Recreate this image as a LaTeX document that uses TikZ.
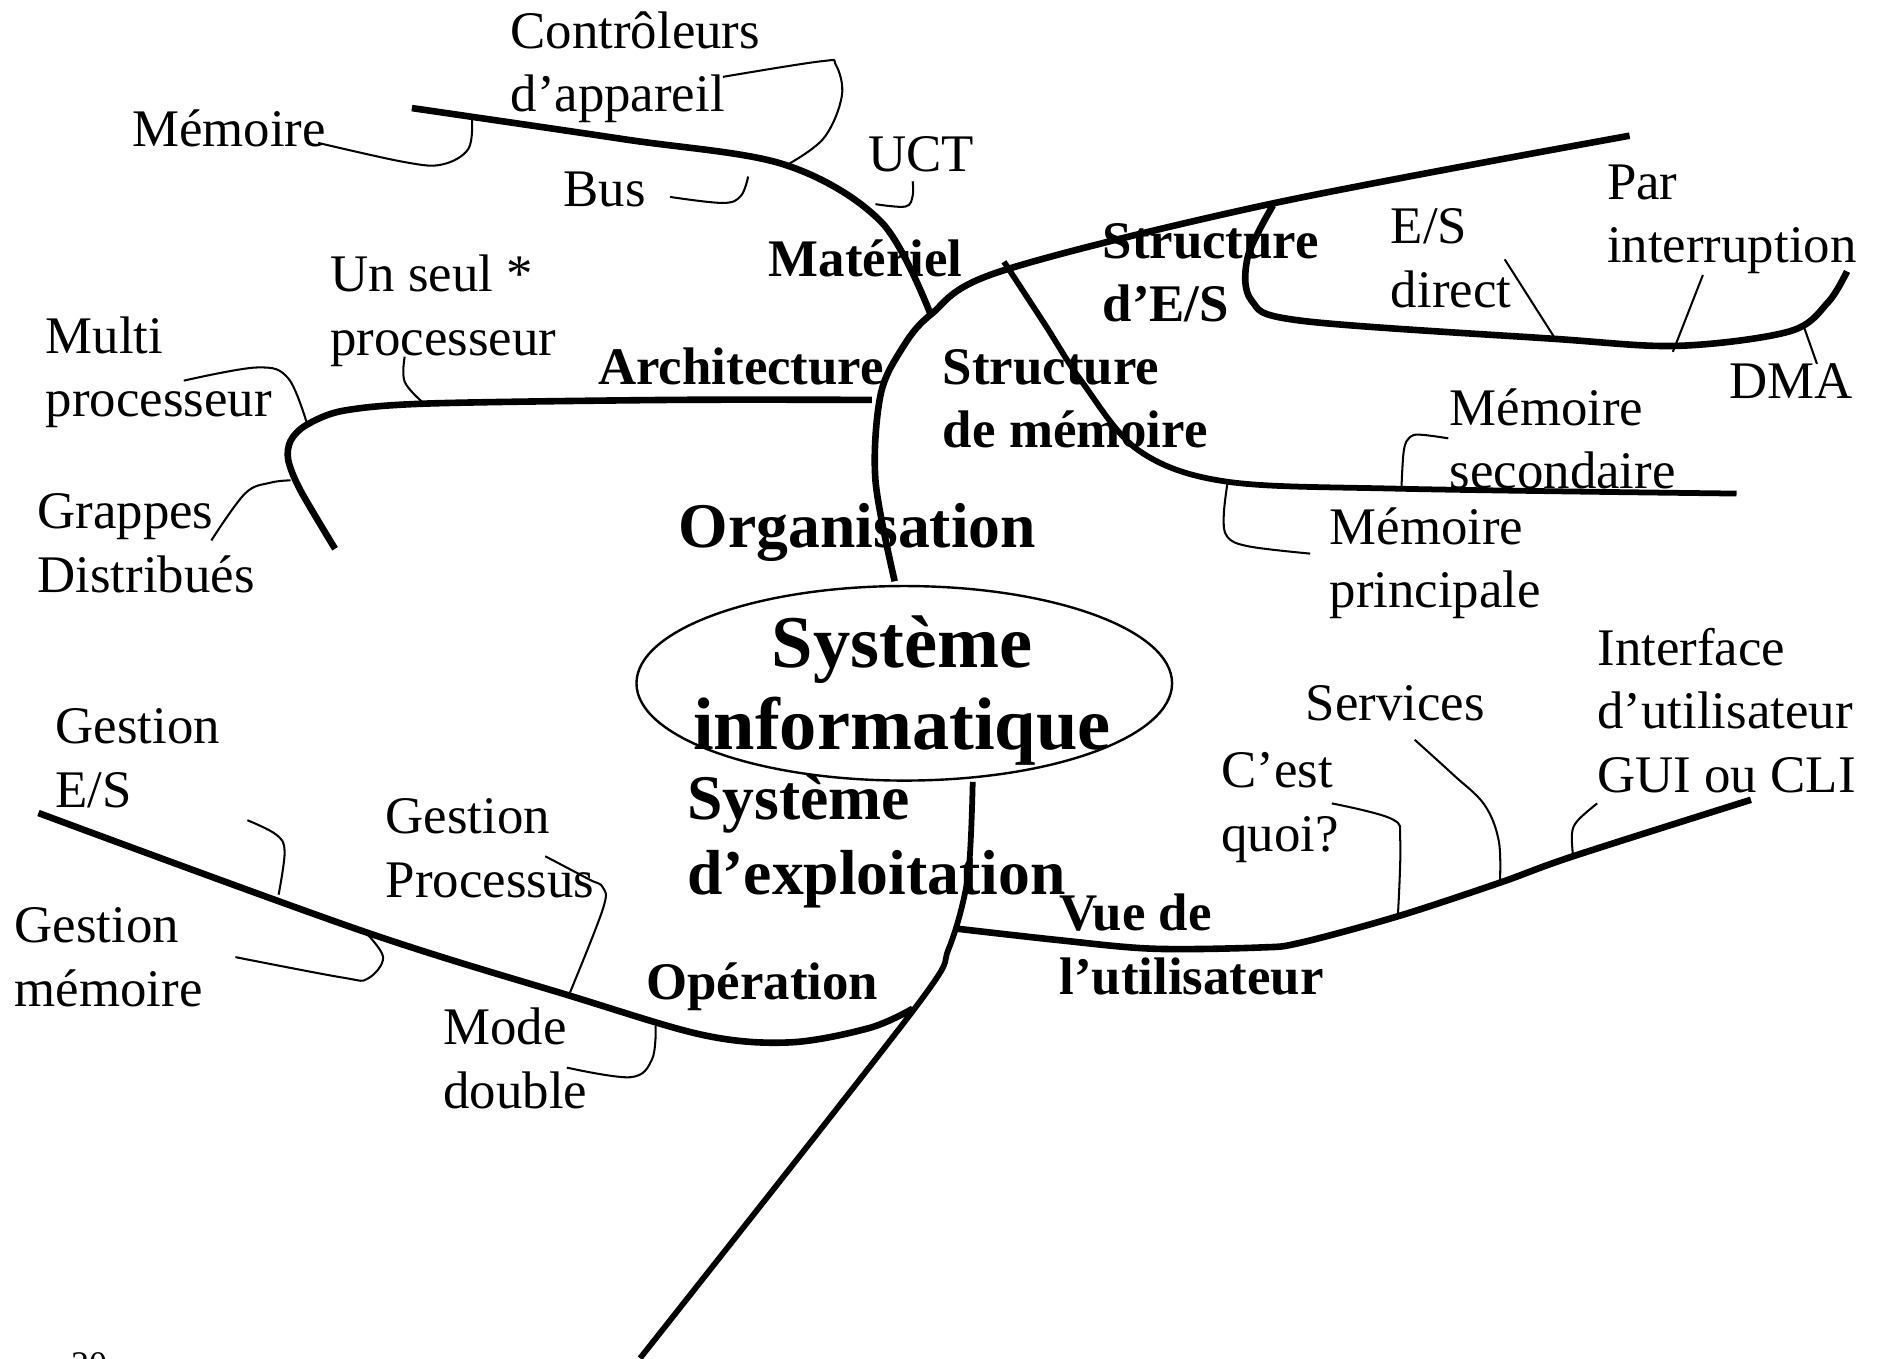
\documentclass[tikz,border=0pt]{standalone}
\usepackage{fontspec}
\setmainfont{Liberation Serif}
\newcommand\txtsz{\fontsize{44}{53}\selectfont}
\newcommand\midsz{\fontsize{53}{63}\selectfont}
\newcommand\bigsz{\fontsize{62}{68}\selectfont}
\tikzset{
  branch/.style={line width=5.5pt, line join=round},
  trunk/.style={line width=4.8pt, line join=round},
  twig/.style={line width=1.7pt, line join=round},
  lbl/.style={anchor=base west, inner sep=0pt, align=left, font=\txtsz},
  blbl/.style={lbl, font=\txtsz\bfseries},
  mlbl/.style={lbl, font=\midsz\bfseries},
}
\begin{document}
\begin{tikzpicture}[x=1pt,y=-1pt]
\useasboundingbox (0,0) rectangle (1568,1131);
\clip (0,0) rectangle (1568,1131);

% central ellipse (multi-line nodes are placed by the baseline of their last line)
\draw[line width=2pt] (753,569) ellipse [x radius=223, y radius=81];
\node[anchor=base, inner sep=0pt, align=center, font=\bigsz\bfseries] (si) at (751,624) {Système\\informatique};

% trunk upward (Organisation) and the Structure d'E/S arc
\draw[branch] plot[smooth, tension=0.55] coordinates {(745,484) (729,400) (733,330) (750,292) (775,262) (833,226) (1057,170) (1357,113)};
% Matériel branch
\draw[branch] plot[smooth, tension=0.55] coordinates {(343,90) (520,116) (653,137) (734,185) (775,262)};
% Architecture branch
\draw[branch] plot[smooth, tension=0.5] coordinates {(726,333) (560,333) (357,336) (286,342) (255,354) (242,367) (240,383) (250,408) (279,457)};
% Structure de mémoire branch
\draw[trunk] plot[smooth, tension=0.55] coordinates {(836,218) (870,270) (901,318) (948,375) (1021,401) (1167,407) (1446,411)};
% Structure d'E/S sub-branch
\draw[branch] plot[smooth, tension=0.55] coordinates {(1060,171) (1039,214) (1042,250) (1083,267) (1292,282) (1397,288) (1490,276) (1522,252) (1538,226)};

% trunk downward (Système d'exploitation)
\draw[trunk] plot[smooth, tension=0.5] coordinates {(810,651) (806,730) (790,790) (760,842) (533,1131)};
% Opération branch
\draw[branch] plot[smooth, tension=0.55] coordinates {(32,677) (301,775) (474,829) (586,862) (658,868) (724,856) (760,840)};
% Vue de l'utilisateur branch
\draw[branch] plot[smooth, tension=0.55] coordinates {(794,773) (883,783) (960,790) (1049,789) (1083,785) (1164,763) (1249,735) (1310,713) (1458,666)};

% thin leaders, Matériel
\draw[twig] plot[smooth, tension=0.6] coordinates {(393,99) (390,124) (368,137) (337,135) (265,119)};
\draw[twig] plot[smooth, tension=0.6] coordinates {(656,137) (686,115) (701,80) (696,54) (684,51) (602,64)};
\draw[twig] plot[smooth, tension=0.6] coordinates {(623,147) (617,163) (602,169) (558,164)};
\draw[twig] plot[smooth, tension=0.6] coordinates {(729,170) (754,172) (760,163) (760,151)};
% Architecture
\draw[twig] plot[smooth, tension=0.6] coordinates {(256,354) (240,315) (214,306) (153,317)};
\draw[twig] plot[smooth, tension=0.6] coordinates {(353,336) (337,318) (337,297)};
\draw[twig] plot[smooth, tension=0.6] coordinates {(242,400) (225,402) (204,411) (176,450)};
% Structure d'E/S
\draw[twig] (1253,216) -- (1295,282);
\draw[twig] (1418,229) -- (1393,293);
\draw[twig] (1501,269) -- (1513,303);
% Structure de mémoire
\draw[twig] plot[smooth, tension=0.6] coordinates {(1167,407) (1169,375) (1174,364) (1183,362) (1206,365)};
\draw[twig] plot[smooth, tension=0.6] coordinates {(1022,403) (1019,430) (1022,447) (1040,455) (1091,461)};
% Opération
\draw[twig] plot[smooth, tension=0.6] coordinates {(232,745) (237,709) (230,695) (206,683)};
\draw[twig] plot[smooth, tension=0.6] coordinates {(303,775) (319,797) (306,815) (285,814) (196,797)};
\draw[twig] plot[smooth, tension=0.6] coordinates {(474,828) (502,757) (502,739) (490,732) (454,713)};
\draw[twig] plot[smooth, tension=0.6] coordinates {(546,854) (543,882) (525,897) (472,889)};
% Vue de l'utilisateur
\draw[twig] plot[smooth, tension=0.6] coordinates {(1164,763) (1166,700) (1159,682) (1109,669)};
\draw[twig] plot[smooth, tension=0.6] coordinates {(1249,735) (1248,700) (1236,670) (1210,645) (1178,616)};
\draw[twig] plot[smooth, tension=0.6] coordinates {(1310,714) (1309,694) (1314,683) (1330,669)};

% branch titles
\node[mlbl] (org) at (565,456) {Organisation};
\node[mlbl] (se) at (572,745) {Système\\d’exploitation};
\node[blbl] (mat) at (640,230) {Matériel};
\node[blbl] (arch) at (498,320) {Architecture};
\node[blbl] (ses) at (918,268) {Structure\\d’E/S};
\node[blbl] (smem) at (785,373) {Structure\\de mémoire};
\node[blbl] (op) at (538,832) {Opération};
\node[blbl] (vue) at (882,828) {Vue de\\l’utilisateur};

% leaves
\node[lbl] (ctrl) at (425,93) {Contrôleurs\\d’appareil};
\node[lbl] (mem) at (110,122) {Mémoire};
\node[lbl] (bus) at (469,172) {Bus};
\node[lbl] (uct) at (723,143) {UCT};
\node[lbl] (seul) at (275,296) {Un seul *\\processeur};
\node[lbl] (multi) at (38,347) {Multi\\processeur};
\node[lbl] (grap) at (31,493) {Grappes\\Distribués};
\node[lbl] (esd) at (1158,256) {E/S\\direct};
\node[lbl] (intr) at (1338,219) {Par\\interruption};
\node[lbl] (dma) at (1440,332) {DMA};
\node[lbl] (msec) at (1207,407) {Mémoire\\secondaire};
\node[lbl] (mpri) at (1107,506) {Mémoire\\principale};
\node[lbl] (iface) at (1330,660) {Interface\\d’utilisateur\\GUI ou CLI};
\node[lbl] (serv) at (1087,600) {Services};
\node[lbl] (cest) at (1017,709) {C’est\\quoi?};
\node[lbl] (ges) at (46,672) {Gestion\\E/S};
\node[lbl] (gpr) at (321,747) {Gestion\\Processus};
\node[lbl] (gmem) at (12,838) {Gestion\\mémoire};
\node[lbl] (mode) at (369,923) {Mode\\double};

% page number, cut by the lower edge
\node[anchor=base west, inner sep=0pt, font=\fontsize{30}{36}\selectfont] (pg) at (59,1146) {20};
\end{tikzpicture}
\end{document}
